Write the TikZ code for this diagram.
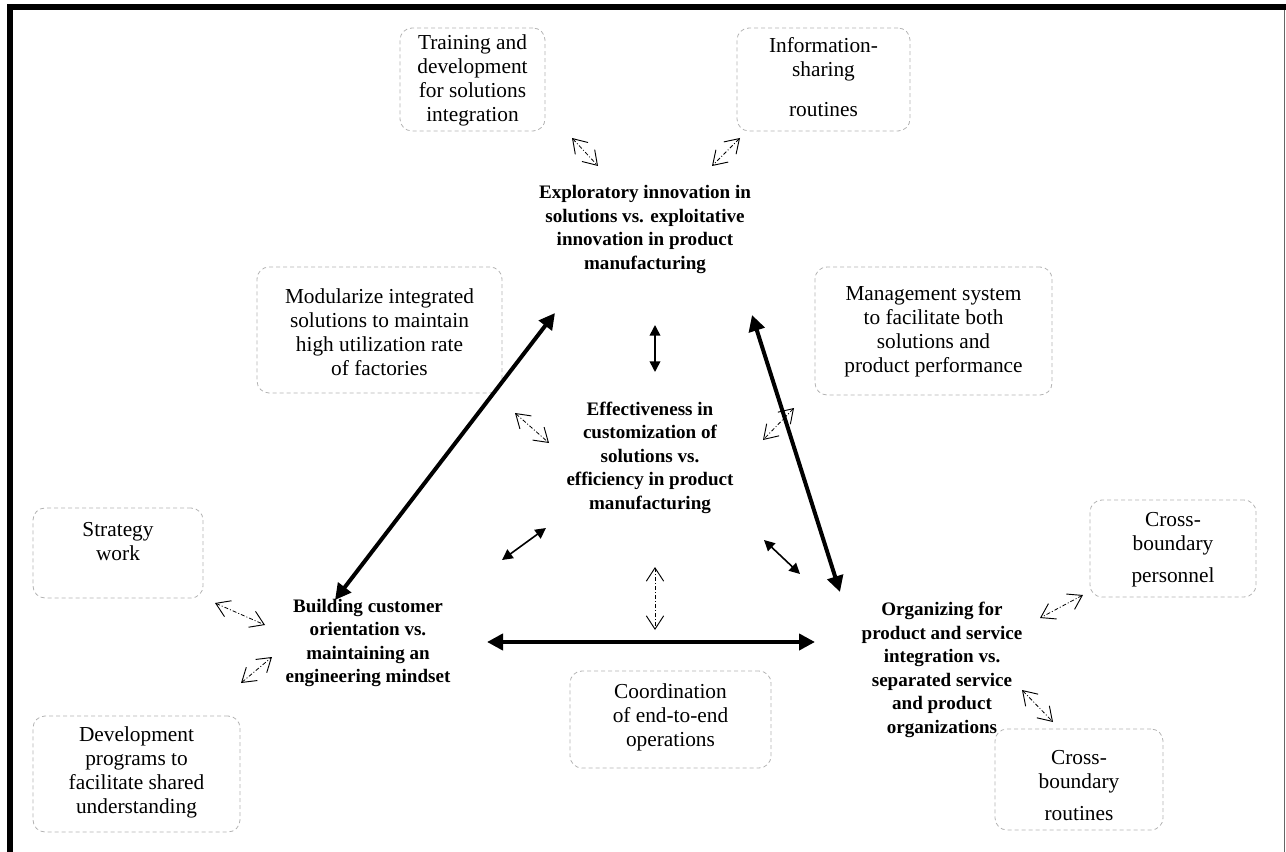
\documentclass[tikz,border=0pt]{standalone}
\usepackage{fontspec}
\setmainfont{Liberation Serif}
\usetikzlibrary{arrows.meta}
\begin{document}
\begin{tikzpicture}[x=0.75pt,y=-0.75pt,
  dbox/.style={draw=black!30, dash pattern=on 3pt off 2.25pt, rounded corners=9pt, line width=0.6pt},
  txt/.style={font=\fontsize{16}{18}\selectfont, align=center, inner sep=0pt},
  btxt/.style={font=\fontsize{14.3}{17.6}\selectfont\bfseries, align=center, inner sep=0pt},
  bigarrow/.style={line width=3pt, {Triangle[length=12pt,width=12pt]}-{Triangle[length=12pt,width=12pt]}},
  smallarrow/.style={line width=1.2pt, {Triangle[length=8pt,width=8pt]}-{Triangle[length=8pt,width=8pt]}},
  dasharrow/.style={line width=0.6pt, dash pattern=on 3pt off 1.5pt on 0.75pt off 1.5pt,
     {Straight Barb[length=10pt,width=13pt,line width=0.7pt]}-{Straight Barb[length=10pt,width=13pt,line width=0.7pt]}}
]
\useasboundingbox (0,0) rectangle (1286,852);
% frame
\draw[line width=4.5pt] (10,852) -- (10,7.5) -- (1286,7.5);
\draw[black!60, line width=0.75pt] (1284.5,10) -- (1284.5,852);

% boxes
\node[dbox, minimum width=108.75pt, minimum height=77.25pt] (b1) at (472.5,79.5) {};
\node[dbox, minimum width=129.75pt, minimum height=77.25pt] (b2) at (823.5,79.5) {};
\node[dbox, minimum width=183.75pt, minimum height=94.5pt] (b3) at (379.5,330) {};
\node[dbox, minimum width=177.75pt, minimum height=96pt] (b4) at (933.5,331) {};
\node[dbox, minimum width=127.5pt, minimum height=67.5pt] (b5) at (118,553) {};
\node[dbox, minimum width=155.25pt, minimum height=87pt] (b6) at (136.5,774) {};
\node[dbox, minimum width=150.75pt, minimum height=72.75pt] (b7) at (670.5,719.5) {};
\node[dbox, minimum width=124.5pt, minimum height=72.75pt] (b8) at (1173,548.5) {};
\node[dbox, minimum width=126pt, minimum height=75.75pt] (b9) at (1079,779.5) {};

% box texts
\node[txt] (t1) at (472.5,80.5) {Training and\\development\\for solutions\\integration};
\node[txt] (t2) at (823.5,77) {Information-\\sharing\\[12pt]routines};
\node[txt] (t3) at (379.5,332) {Modularize integrated\\solutions to maintain\\high utilization rate\\of factories};
\node[txt] (t4) at (933.5,332) {Management system\\to facilitate both\\solutions and\\product performance};
\node[txt] (t5) at (118,541.5) {Strategy\\work};
\node[txt] (t6) at (136.5,772) {Development\\programs to\\facilitate shared\\understanding};
\node[txt] (t7) at (670.5,717) {Coordination\\of end-to-end\\operations};
\node[txt] (t8) at (1173,550) {Cross-\\boundary\\[6pt]personnel};
\node[txt] (t9) at (1079,786) {Cross-\\boundary\\[6pt]routines};

% bold texts
\node[btxt] (top) at (645,229.5) {Exploratory innovation in\\solutions vs. exploitative\\innovation in product\\manufacturing};
\node[btxt] (mid) at (650,457.5) {Effectiveness in\\customization of\\solutions vs.\\efficiency in product\\manufacturing};
\node[btxt] (left) at (368,643) {Building customer\\orientation vs.\\maintaining an\\engineering mindset};
\node[btxt] (right) at (942,670) {Organizing for\\product and service\\integration vs.\\separated service\\and product\\organizations};

% arrow endpoints
\coordinate (a1s) at (572,138); \coordinate (a1e) at (598,166);
\coordinate (a2s) at (740,138); \coordinate (a2e) at (712,166);
\coordinate (tls) at (555,313); \coordinate (tle) at (335,600);
\coordinate (trs) at (752,315); \coordinate (tre) at (840,592);
\coordinate (svs) at (655,325); \coordinate (sve) at (655,372);
\coordinate (uls) at (515,413); \coordinate (ule) at (549,443);
\coordinate (urs) at (794,408); \coordinate (ure) at (763,440);
\coordinate (lls) at (502,560); \coordinate (lle) at (546,528);
\coordinate (lrs) at (764,540); \coordinate (lre) at (800,574);
\coordinate (dvs) at (655,567); \coordinate (dve) at (655,630);
\coordinate (ths) at (487,642); \coordinate (the) at (815,642);
\coordinate (sts) at (215,603); \coordinate (ste) at (265,625);
\coordinate (dps) at (241,683); \coordinate (dpe) at (272,657);
\coordinate (cps) at (1083,595); \coordinate (cpe) at (1040,618);
\coordinate (crs) at (1022,690); \coordinate (cre) at (1053,722);

% arrows
\draw[bigarrow] (tls) -- (tle);
\draw[bigarrow] (trs) -- (tre);
\draw[bigarrow] (ths) -- (the);
\draw[smallarrow] (svs) -- (sve);
\draw[smallarrow] (lls) -- (lle);
\draw[smallarrow] (lrs) -- (lre);
\draw[dasharrow] (a1s) -- (a1e);
\draw[dasharrow] (a2s) -- (a2e);
\draw[dasharrow] (uls) -- (ule);
\draw[dasharrow] (urs) -- (ure);
\draw[dasharrow] (dvs) -- (dve);
\draw[dasharrow] (sts) -- (ste);
\draw[dasharrow] (dps) -- (dpe);
\draw[dasharrow] (cps) -- (cpe);
\draw[dasharrow] (crs) -- (cre);
\end{tikzpicture}
\end{document}
